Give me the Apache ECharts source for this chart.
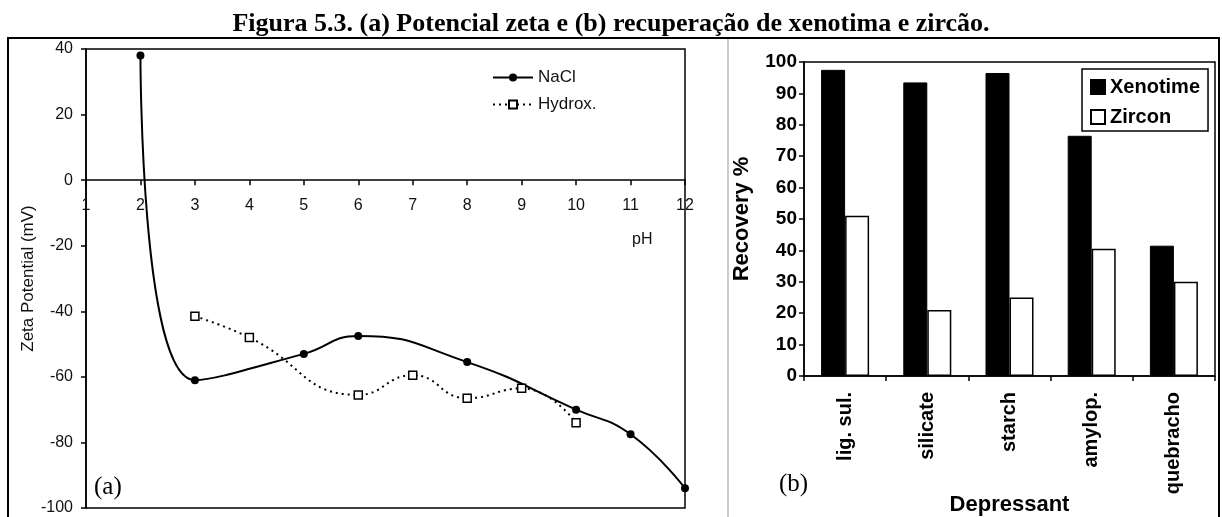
<!DOCTYPE html>
<html>
<head>
<meta charset="utf-8">
<script src="https://cdn.jsdelivr.net/npm/echarts@6/dist/echarts.min.js"></script>
<style>
  html, body { margin: 0; padding: 0; background: #fff; }
  #chart { width: 1222px; height: 517px; }
</style>
</head>
<body>
<div id="chart"></div>
<script>
  // (a) zeta potential vs pH
  const naclPH = [2, 3, 5, 6, 8, 10, 11, 12];
  const naclZeta = [38, -61, -53, -47.5, -55.5, -70, -77.5, -94];
  const hydroxPH = [3, 4, 6, 7, 8, 9, 10];
  const hydroxZeta = [-41.5, -48, -65.5, -59.5, -66.5, -63.5, -74];

  // (b) recovery by depressant
  const depressants = ['lig. sul.', 'silicate', 'starch', 'amylop.', 'quebracho'];
  const xenotime = [97.5, 93.5, 96.5, 76.5, 41.5];
  const zircon = [51, 21, 25, 40.5, 30];

  const sans = 'Liberation Sans, Arial, sans-serif';
  const serif = 'Liberation Serif, Times New Roman, serif';

  // left grid is 459px tall, pH axis sits on zeta = 0 (range -100..40)
  const zetaMin = -100, zetaMax = 40, leftGridH = 459;
  const pHAxisOffset = -leftGridH * (0 - zetaMin) / (zetaMax - zetaMin);

  const chart = echarts.init(document.getElementById('chart'));

  chart.setOption({
    animation: false,
    title: {
      text: 'Figura 5.3. (a) Potencial zeta e (b) recuperação de xenotima e zircão.',
      left: 'center',
      top: 6,
      textStyle: { fontFamily: serif, fontSize: 26, fontWeight: 'bold', color: '#000' }
    },
    legend: [
      {
        orient: 'vertical',
        left: 487,
        top: 64,
        itemWidth: 40,
        itemHeight: 10,
        itemGap: 10,
        textStyle: { fontFamily: sans, fontSize: 17, color: '#111' },
        data: ['NaCl', 'Hydrox.']
      },
      {
        orient: 'vertical',
        left: 1082,
        top: 69,
        padding: [8, 8, 4, 8],
        itemWidth: 14,
        itemHeight: 14,
        itemGap: 10,
        backgroundColor: '#fff',
        borderColor: '#000',
        borderWidth: 1.5,
        borderRadius: 0,
        textStyle: { fontFamily: sans, fontSize: 20, fontWeight: 'bold', color: '#000' },
        data: [
          { name: 'Xenotime', icon: 'rect' },
          { name: 'Zircon', icon: 'rect' }
        ]
      }
    ],
    grid: [
      { left: 86, right: 537, top: 49, bottom: 9, outerBoundsMode: 'none', containLabel: false, show: true, borderColor: '#000', borderWidth: 1.5, backgroundColor: 'transparent' },
      { left: 804, right: 7, top: 62, bottom: 141, outerBoundsMode: 'none', containLabel: false, show: true, borderColor: '#000', borderWidth: 1.5, backgroundColor: 'transparent' }
    ],
    xAxis: [
      {
        gridIndex: 0,
        type: 'value',
        min: 1,
        max: 12,
        interval: 1,
        position: 'bottom',
        offset: pHAxisOffset,
        axisLine: { onZero: false, lineStyle: { color: '#000', width: 1.5 } },
        axisTick: { show: true, length: 5, lineStyle: { color: '#000', width: 1.5 } },
        axisLabel: { margin: 17, fontFamily: sans, fontSize: 16, color: '#111' },
        splitLine: { show: false }
      },
      {
        gridIndex: 1,
        type: 'category',
        data: depressants,
        axisLine: { lineStyle: { color: '#000', width: 1.5 } },
        axisTick: { show: true, length: 5, lineStyle: { color: '#000', width: 1.5 } },
        axisLabel: { rotate: 90, margin: 16, fontFamily: sans, fontSize: 20, fontWeight: 'bold', color: '#000' },
        name: 'Depressant',
        nameLocation: 'middle',
        nameGap: 118,
        nameMoveOverlap: false,
        nameTextStyle: { fontFamily: sans, fontSize: 22, fontWeight: 'bold', color: '#000' }
      }
    ],
    yAxis: [
      {
        gridIndex: 0,
        type: 'value',
        min: zetaMin,
        max: zetaMax,
        interval: 20,
        axisLine: { show: true, onZero: false, lineStyle: { color: '#000', width: 1.5 } },
        axisTick: { show: true, length: 5, lineStyle: { color: '#000', width: 1.5 } },
        axisLabel: { margin: 13, fontFamily: sans, fontSize: 16, color: '#111' },
        splitLine: { show: false },
        name: 'Zeta Potential (mV)',
        nameLocation: 'middle',
        nameGap: 46,
        nameTextStyle: { fontFamily: sans, fontSize: 17, color: '#111' }
      },
      {
        gridIndex: 1,
        type: 'value',
        min: 0,
        max: 100,
        interval: 10,
        axisLine: { show: true, lineStyle: { color: '#000', width: 1.5 } },
        axisTick: { show: true, length: 5, lineStyle: { color: '#000', width: 1.5 } },
        axisLabel: { margin: 7, fontFamily: sans, fontSize: 19, fontWeight: 'bold', color: '#000' },
        splitLine: { show: false },
        name: 'Recovery %',
        nameLocation: 'middle',
        nameGap: 51,
        nameMoveOverlap: false,
        nameTextStyle: { fontFamily: sans, fontSize: 22, fontWeight: 'bold', color: '#000' }
      }
    ],
    series: [
      {
        name: 'NaCl',
        type: 'line',
        xAxisIndex: 0,
        yAxisIndex: 0,
        smooth: 0.5,
        symbol: 'circle',
        symbolSize: 8,
        itemStyle: { color: '#000' },
        lineStyle: { color: '#000', width: 2 },
        data: naclPH.map((x, i) => [x, naclZeta[i]])
      },
      {
        name: 'Hydrox.',
        type: 'line',
        xAxisIndex: 0,
        yAxisIndex: 0,
        smooth: 0.5,
        symbol: 'rect',
        symbolSize: 8,
        itemStyle: { color: '#fff', borderColor: '#000', borderWidth: 1.5 },
        lineStyle: { color: '#000', width: 2, type: [2, 4] },
        data: hydroxPH.map((x, i) => [x, hydroxZeta[i]])
      },
      {
        name: 'Xenotime',
        type: 'bar',
        xAxisIndex: 1,
        yAxisIndex: 1,
        barWidth: 24,
        barGap: '0%',
        itemStyle: { color: '#000', borderColor: '#000', borderWidth: 1 },
        data: xenotime
      },
      {
        name: 'Zircon',
        type: 'bar',
        xAxisIndex: 1,
        yAxisIndex: 1,
        barWidth: 24,
        barGap: '0%',
        itemStyle: { color: '#fff', borderColor: '#000', borderWidth: 1.5 },
        data: zircon
      }
    ],
    graphic: [
      { type: 'rect', shape: { x: 8, y: 38, width: 1211, height: 484 }, style: { fill: 'none', stroke: '#000', lineWidth: 2 }, silent: true },
      { type: 'line', shape: { x1: 728, y1: 39, x2: 728, y2: 517 }, style: { stroke: '#999', lineWidth: 1 }, silent: true },
      { type: 'text', left: 632, top: 232, style: { text: 'pH', font: '16px ' + sans, fill: '#111' } },
      { type: 'text', left: 94, top: 475, style: { text: '(a)', font: '25px ' + serif, fill: '#000' } },
      { type: 'text', left: 779, top: 472, style: { text: '(b)', font: '25px ' + serif, fill: '#000' } }
    ]
  });
</script>
</body>
</html>
